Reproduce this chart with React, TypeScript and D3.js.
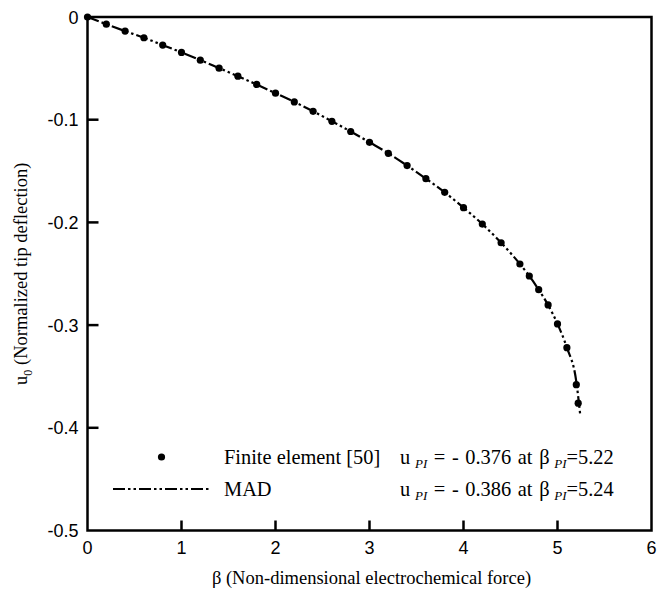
import React from 'react'
import * as d3 from 'd3'

// Finite element results (dots)
const feBeta = [0, 0.2, 0.4, 0.6, 0.8, 1.0, 1.2, 1.4, 1.6, 1.8, 2.0, 2.2, 2.4, 2.6, 2.8, 3.0, 3.2, 3.4, 3.6, 3.8, 4.0, 4.2, 4.4, 4.6, 4.7, 4.8, 4.9, 5.0, 5.1, 5.2, 5.22]
const feU = [0, -0.007, -0.0137, -0.0202, -0.0273, -0.0345, -0.042, -0.0498, -0.0576, -0.0657, -0.0742, -0.0827, -0.0918, -0.1016, -0.1115, -0.122, -0.1327, -0.1447, -0.1574, -0.1707, -0.1857, -0.2016, -0.2198, -0.2405, -0.2522, -0.2655, -0.2804, -0.2989, -0.322, -0.358, -0.376]

// MAD curve (dash-dot-dot line)
const madBeta = [0, 0.2, 0.4, 0.6, 0.8, 1.0, 1.2, 1.4, 1.6, 1.8, 2.0, 2.2, 2.4, 2.6, 2.8, 3.0, 3.2, 3.4, 3.6, 3.8, 4.0, 4.2, 4.4, 4.6, 4.7, 4.8, 4.9, 5.0, 5.1, 5.2, 5.24]
const madU = [0, -0.007, -0.0137, -0.0202, -0.0273, -0.0345, -0.042, -0.0498, -0.0576, -0.0657, -0.0742, -0.0827, -0.0918, -0.1016, -0.1115, -0.122, -0.1327, -0.1447, -0.1574, -0.1707, -0.1857, -0.2016, -0.2198, -0.2405, -0.2522, -0.2655, -0.2804, -0.2989, -0.322, -0.355, -0.386]

const xTicks = [0, 1, 2, 3, 4, 5, 6]
const yTicks = [0, -0.1, -0.2, -0.3, -0.4, -0.5]
const yTickLabels = ['0', '-0.1', '-0.2', '-0.3', '-0.4', '-0.5']

const W = 664, H = 589
const left = 87.5, right = 651.5, top = 17, bottom = 530.5

export default function App() {
  const x = d3.scaleLinear().domain([0, 6]).range([left, right])
  const y = d3.scaleLinear().domain([-0.5, 0]).range([bottom, top])

  const fe = feBeta.map((b, i) => ({ b, u: feU[i] }))
  const mad = madBeta.map((b, i) => ({ b, u: madU[i] }))
  const line = d3.line<{ b: number; u: number }>().x(d => x(d.b)).y(d => y(d.u)).curve(d3.curveMonotoneX)

  const sans = 'Liberation Sans, Arial, sans-serif'
  const serif = 'Liberation Serif, Times New Roman, serif'
  const dash = '12,3,2.5,3,2.5,3'

  const subscript = (v: string, b: string) => (
    <>
      u<tspan fontSize={13} fontStyle="italic" dy={4}> PI</tspan>
      <tspan dy={-4}> = - {v} at β</tspan>
      <tspan fontSize={13} fontStyle="italic" dy={4}> PI</tspan>
      <tspan dy={-4}>={b}</tspan>
    </>
  )

  return (
    <div style={{ position: 'absolute', left: 0, top: 0 }}>
      <svg width={W} height={H} style={{ display: 'block', background: '#fff' }}>
        {/* MAD line */}
        <path d={line(mad) || ''} fill="none" stroke="#000" strokeWidth={2.2} strokeDasharray={dash} />
        {/* FE dots */}
        {fe.map((d, i) => (
          <circle key={i} cx={x(d.b)} cy={y(d.u)} r={3.6} fill="#000" />
        ))}

        {/* frame */}
        <rect x={left} y={top} width={right - left} height={bottom - top} fill="none" stroke="#000" strokeWidth={2.5} />

        {/* x ticks */}
        {xTicks.map(t => (
          <g key={'x' + t}>
            {t > 0 && t < 6 && <line x1={x(t)} x2={x(t)} y1={bottom} y2={bottom - 10} stroke="#000" strokeWidth={2.5} />}
            <text x={x(t)} y={bottom + 23} textAnchor="middle" fontFamily={sans} fontSize={18}>{t}</text>
          </g>
        ))}
        {/* y ticks */}
        {yTicks.map((t, i) => (
          <g key={'y' + i}>
            {i > 0 && i < yTicks.length - 1 && <line x1={left} x2={left + 11} y1={y(t)} y2={y(t)} stroke="#000" strokeWidth={2.5} />}
            <text x={left - 9} y={y(t) + 6.5} textAnchor="end" fontFamily={sans} fontSize={18}>{yTickLabels[i]}</text>
          </g>
        ))}

        {/* axis titles */}
        <text x={(left + right) / 2 + 2} y={584} textAnchor="middle" fontFamily={serif} fontSize={18.5}>
          β (Non-dimensional electrochemical force)
        </text>
        <text transform={`translate(27,${(top + bottom) / 2}) rotate(-90)`} textAnchor="middle" fontFamily={serif} fontSize={18.5}>
          u<tspan fontSize={12} dy={5}>0</tspan><tspan dy={-5}> (Normalized tip deflection)</tspan>
        </text>

        {/* legend */}
        <circle cx={161.5} cy={457} r={3.6} fill="#000" />
        <text x={224} y={463.5} fontFamily={serif} fontSize={20.4}>Finite element [50]</text>
        <line x1={113} x2={209} y1={489} y2={489} stroke="#000" strokeWidth={2.2} strokeDasharray={dash} />
        <text x={224} y={495.5} fontFamily={serif} fontSize={20.4}>MAD</text>

        <text x={400} y={463.5} fontFamily={serif} fontSize={20.4} wordSpacing={1.5}>{subscript('0.376', '5.22')}</text>
        <text x={400} y={495.5} fontFamily={serif} fontSize={20.4} wordSpacing={1.5}>{subscript('0.386', '5.24')}</text>
      </svg>
    </div>
  )
}
